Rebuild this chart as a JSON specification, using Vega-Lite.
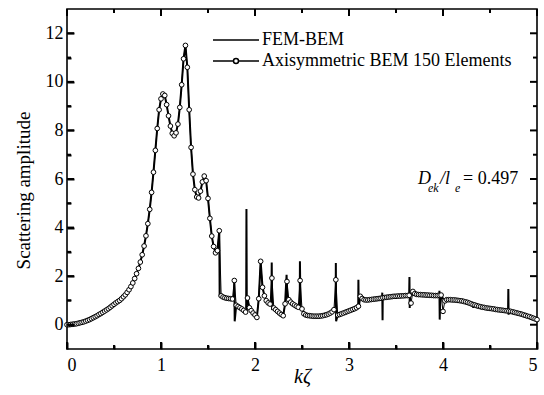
{
"$schema": "https://vega.github.io/schema/vega-lite/v6.json",
"width": 470, "height": 340,
"autosize": {"type": "none"},
"padding": {"left": 67, "top": 9, "right": 7, "bottom": 46},
"background": "white",
"config": {
 "view": {"stroke": "black", "strokeWidth": 1.6},
 "font": "Liberation Serif",
 "axis": {"grid": false, "domain": false, "labelFont": "Liberation Serif", "labelFontSize": 18, "labelColor": "black", "titleFont": "Liberation Serif", "titleColor": "black", "titleFontWeight": "normal"}
},
"data": {"values": [
{"x":0.00,"bem":0.00,"fem":0.00},{"x":0.02,"bem":0.00,"fem":0.00},{"x":0.04,"bem":0.01,"fem":0.01},{"x":0.06,"bem":0.02,"fem":0.02},{"x":0.08,"bem":0.03,"fem":0.03},
{"x":0.10,"bem":0.04,"fem":0.04},{"x":0.12,"bem":0.06,"fem":0.06},{"x":0.14,"bem":0.08,"fem":0.08},{"x":0.16,"bem":0.10,"fem":0.10},{"x":0.18,"bem":0.12,"fem":0.12},
{"x":0.20,"bem":0.15,"fem":0.15},{"x":0.22,"bem":0.18,"fem":0.18},{"x":0.24,"bem":0.21,"fem":0.21},{"x":0.26,"bem":0.25,"fem":0.25},{"x":0.28,"bem":0.29,"fem":0.29},
{"x":0.30,"bem":0.33,"fem":0.33},{"x":0.32,"bem":0.37,"fem":0.37},{"x":0.34,"bem":0.42,"fem":0.42},{"x":0.36,"bem":0.46,"fem":0.46},{"x":0.38,"bem":0.51,"fem":0.51},
{"x":0.40,"bem":0.56,"fem":0.56},{"x":0.42,"bem":0.61,"fem":0.61},{"x":0.44,"bem":0.66,"fem":0.66},{"x":0.46,"bem":0.72,"fem":0.72},{"x":0.48,"bem":0.78,"fem":0.78},
{"x":0.50,"bem":0.84,"fem":0.84},{"x":0.52,"bem":0.90,"fem":0.90},{"x":0.54,"bem":0.95,"fem":0.95},{"x":0.56,"bem":1.00,"fem":1.00},{"x":0.58,"bem":1.07,"fem":1.07},
{"x":0.60,"bem":1.15,"fem":1.15},{"x":0.62,"bem":1.23,"fem":1.23},{"x":0.64,"bem":1.33,"fem":1.33},{"x":0.66,"bem":1.44,"fem":1.44},{"x":0.68,"bem":1.57,"fem":1.57},
{"x":0.70,"bem":1.72,"fem":1.72},{"x":0.72,"bem":1.90,"fem":1.90},{"x":0.74,"bem":2.10,"fem":2.10},{"x":0.76,"bem":2.32,"fem":2.32},{"x":0.78,"bem":2.58,"fem":2.58},
{"x":0.80,"bem":2.88,"fem":2.88},{"x":0.82,"bem":3.24,"fem":3.24},{"x":0.84,"bem":3.66,"fem":3.66},{"x":0.86,"bem":4.16,"fem":4.16},{"x":0.88,"bem":4.75,"fem":4.75},
{"x":0.90,"bem":5.45,"fem":5.45},{"x":0.92,"bem":6.28,"fem":6.28},{"x":0.94,"bem":7.18,"fem":7.18},{"x":0.96,"bem":8.08,"fem":8.08},{"x":0.98,"bem":8.85,"fem":8.85},
{"x":1.00,"bem":9.30,"fem":9.30},{"x":1.02,"bem":9.50,"fem":9.50},{"x":1.04,"bem":9.44,"fem":9.44},{"x":1.06,"bem":9.06,"fem":9.06},{"x":1.08,"bem":8.60,"fem":8.60},
{"x":1.10,"bem":8.18,"fem":8.18},{"x":1.12,"bem":7.88,"fem":7.88},{"x":1.14,"bem":7.78,"fem":7.78},{"x":1.16,"bem":7.90,"fem":7.90},{"x":1.18,"bem":8.26,"fem":8.26},
{"x":1.20,"bem":8.95,"fem":8.95},{"x":1.22,"bem":9.88,"fem":9.88},{"x":1.24,"bem":10.95,"fem":10.95},{"x":1.26,"bem":11.50,"fem":11.50},{"x":1.28,"bem":10.60,"fem":10.60},
{"x":1.30,"bem":8.85,"fem":8.85},{"x":1.32,"bem":7.30,"fem":7.30},{"x":1.34,"bem":6.20,"fem":6.20},{"x":1.36,"bem":5.56,"fem":5.56},{"x":1.38,"bem":5.26,"fem":5.26},
{"x":1.40,"bem":5.22,"fem":5.22},{"x":1.42,"bem":5.50,"fem":5.50},{"x":1.44,"bem":5.88,"fem":5.88},{"x":1.46,"bem":6.12,"fem":6.12},{"x":1.48,"bem":5.93,"fem":5.93},
{"x":1.50,"bem":5.20,"fem":5.20},{"x":1.52,"bem":4.38,"fem":4.38},{"x":1.54,"bem":3.65,"fem":3.65},{"x":1.56,"bem":3.22,"fem":3.22},{"x":1.58,"bem":2.96,"fem":2.96},
{"x":1.60,"bem":3.05,"fem":3.05},{"x":1.62,"bem":3.87,"fem":3.87},{"x":1.624,"fem":1.20},{"x":1.64,"bem":1.19,"fem":1.19},{"x":1.66,"bem":1.14,"fem":1.14},{"x":1.68,"bem":1.11,"fem":1.11},
{"x":1.70,"bem":1.09,"fem":1.09},{"x":1.72,"bem":1.08,"fem":1.08},{"x":1.74,"bem":1.07,"fem":1.07},{"x":1.76,"bem":1.06,"fem":1.06},{"x":1.776,"fem":1.06},{"x":1.78,"bem":1.82,"fem":1.82},{"x":1.784,"fem":0.14},
{"x":1.80,"bem":0.80,"fem":0.80},{"x":1.82,"bem":0.75,"fem":0.75},{"x":1.84,"bem":0.70,"fem":0.70},{"x":1.86,"bem":0.65,"fem":0.65},{"x":1.88,"bem":0.59,"fem":0.59},
{"x":1.90,"bem":0.52,"fem":0.52},{"x":1.906,"fem":0.52},{"x":1.909,"fem":4.76},{"x":1.913,"fem":0.55},{"x":1.92,"bem":1.10,"fem":1.10},{"x":1.94,"bem":0.70,"fem":0.70},{"x":1.96,"bem":0.58,"fem":0.58},{"x":1.98,"bem":0.48,"fem":0.48},
{"x":2.00,"bem":0.40,"fem":0.40},{"x":2.02,"bem":0.30,"fem":0.30},{"x":2.04,"bem":1.07,"fem":1.07},{"x":2.06,"bem":2.61,"fem":2.61},{"x":2.08,"bem":1.54,"fem":1.54},
{"x":2.10,"bem":1.19,"fem":1.19},{"x":2.12,"bem":0.99,"fem":0.99},{"x":2.14,"bem":0.90,"fem":0.90},{"x":2.16,"bem":0.85,"fem":0.85},{"x":2.174,"fem":0.84},{"x":2.178,"fem":2.56},{"x":2.18,"bem":1.92},{"x":2.182,"fem":0.66},
{"x":2.20,"bem":0.69,"fem":0.69},{"x":2.22,"bem":0.62,"fem":0.62},{"x":2.24,"bem":0.55,"fem":0.55},{"x":2.26,"bem":0.48,"fem":0.48},{"x":2.28,"bem":0.42,"fem":0.42},
{"x":2.30,"bem":0.37,"fem":0.37},{"x":2.32,"bem":0.86,"fem":0.86},{"x":2.336,"fem":2.06},{"x":2.34,"bem":1.78},{"x":2.344,"fem":1.05},{"x":2.36,"bem":1.03,"fem":1.03},{"x":2.38,"bem":0.93,"fem":0.93},
{"x":2.40,"bem":0.86,"fem":0.86},{"x":2.42,"bem":0.81,"fem":0.81},{"x":2.44,"bem":0.76,"fem":0.76},{"x":2.46,"bem":0.72,"fem":0.72},{"x":2.476,"fem":0.72},{"x":2.478,"fem":2.61},{"x":2.48,"bem":1.82},{"x":2.484,"fem":0.66},
{"x":2.50,"bem":0.65,"fem":0.65},{"x":2.52,"bem":0.45,"fem":0.45},{"x":2.54,"bem":0.40,"fem":0.40},{"x":2.56,"bem":0.38,"fem":0.38},{"x":2.58,"bem":0.37,"fem":0.37},
{"x":2.60,"bem":0.36,"fem":0.36},{"x":2.62,"bem":0.35,"fem":0.35},{"x":2.64,"bem":0.35,"fem":0.35},{"x":2.66,"bem":0.35,"fem":0.35},{"x":2.68,"bem":0.35,"fem":0.35},
{"x":2.70,"bem":0.36,"fem":0.36},{"x":2.72,"bem":0.37,"fem":0.37},{"x":2.74,"bem":0.39,"fem":0.39},{"x":2.76,"bem":0.41,"fem":0.41},{"x":2.78,"bem":0.44,"fem":0.44},
{"x":2.80,"bem":0.48,"fem":0.48},{"x":2.82,"bem":0.53,"fem":0.53},{"x":2.84,"bem":0.62,"fem":0.62},{"x":2.858,"fem":0.64},{"x":2.86,"bem":1.85,"fem":2.54},{"x":2.863,"fem":0.14},{"x":2.88,"bem":0.40,"fem":0.40},
{"x":2.90,"bem":0.42,"fem":0.42},{"x":2.92,"bem":0.45,"fem":0.45},{"x":2.94,"bem":0.48,"fem":0.48},{"x":2.96,"bem":0.51,"fem":0.51},{"x":2.98,"bem":0.54,"fem":0.54},
{"x":3.00,"bem":0.57,"fem":0.57},{"x":3.02,"bem":0.60,"fem":0.60},{"x":3.04,"bem":0.63,"fem":0.63},{"x":3.06,"bem":0.66,"fem":0.66},{"x":3.08,"bem":0.70,"fem":0.70},
{"x":3.098,"fem":0.76},{"x":3.10,"bem":0.76,"fem":1.85},{"x":3.103,"fem":0.70},{"x":3.12,"bem":1.17,"fem":1.17},{"x":3.14,"bem":1.08,"fem":1.08},{"x":3.16,"bem":1.03,"fem":1.03},{"x":3.18,"bem":1.02,"fem":1.02},
{"x":3.20,"bem":1.02,"fem":1.02},{"x":3.22,"bem":1.03,"fem":1.03},{"x":3.24,"bem":1.04,"fem":1.04},{"x":3.26,"bem":1.05,"fem":1.05},{"x":3.28,"bem":1.06,"fem":1.06},
{"x":3.30,"bem":1.07,"fem":1.07},{"x":3.32,"bem":1.08,"fem":1.08},{"x":3.34,"bem":1.09,"fem":1.09},{"x":3.352,"fem":1.10},{"x":3.354,"fem":1.32},{"x":3.357,"fem":0.18},{"x":3.359,"fem":1.10},{"x":3.36,"bem":1.11,"fem":1.11},{"x":3.38,"bem":1.12,"fem":1.12},
{"x":3.40,"bem":1.13,"fem":1.13},{"x":3.42,"bem":1.14,"fem":1.14},{"x":3.44,"bem":1.15,"fem":1.15},{"x":3.46,"bem":1.16,"fem":1.16},{"x":3.48,"bem":1.17,"fem":1.17},
{"x":3.50,"bem":1.17,"fem":1.17},{"x":3.52,"bem":1.18,"fem":1.18},{"x":3.54,"bem":1.18,"fem":1.18},{"x":3.56,"bem":1.19,"fem":1.19},{"x":3.58,"bem":1.19,"fem":1.19},
{"x":3.60,"bem":1.20,"fem":1.20},{"x":3.62,"bem":1.20,"fem":1.20},{"x":3.64,"bem":1.21,"fem":1.21},{"x":3.643,"fem":1.96},{"x":3.646,"fem":0.69},{"x":3.65,"fem":1.22},{"x":3.66,"bem":0.89,"fem":1.23},{"x":3.68,"bem":1.37,"fem":1.25},
{"x":3.70,"bem":1.28,"fem":1.26},{"x":3.72,"bem":1.25,"fem":1.25},{"x":3.74,"bem":1.24,"fem":1.24},{"x":3.76,"bem":1.24,"fem":1.24},{"x":3.78,"bem":1.23,"fem":1.23},
{"x":3.80,"bem":1.23,"fem":1.23},{"x":3.82,"bem":1.22,"fem":1.22},{"x":3.84,"bem":1.22,"fem":1.22},{"x":3.86,"bem":1.21,"fem":1.21},{"x":3.88,"bem":1.21,"fem":1.21},
{"x":3.90,"bem":1.20,"fem":1.20},{"x":3.92,"bem":1.20,"fem":1.20},{"x":3.94,"bem":1.20,"fem":1.20},{"x":3.96,"bem":1.21,"fem":1.21},{"x":3.962,"fem":1.40},{"x":3.965,"fem":0.21},{"x":3.972,"fem":1.18},{"x":3.98,"bem":1.22,"fem":1.21},
{"x":4.00,"bem":0.55,"fem":1.08},{"x":4.02,"bem":0.98,"fem":1.03},{"x":4.04,"bem":1.03,"fem":1.03},{"x":4.06,"bem":1.03,"fem":1.03},{"x":4.08,"bem":1.03,"fem":1.03},
{"x":4.10,"bem":1.02,"fem":1.02},{"x":4.12,"bem":1.02,"fem":1.02},{"x":4.14,"bem":1.01,"fem":1.01},{"x":4.16,"bem":1.00,"fem":1.00},{"x":4.18,"bem":0.99,"fem":0.99},
{"x":4.20,"bem":0.98,"fem":0.98},{"x":4.22,"bem":0.96,"fem":0.96},{"x":4.24,"bem":0.94,"fem":0.94},{"x":4.26,"bem":0.92,"fem":0.92},{"x":4.28,"bem":0.89,"fem":0.89},
{"x":4.30,"bem":0.86,"fem":0.86},{"x":4.32,"bem":0.83,"fem":0.83},{"x":4.322,"fem":0.69},{"x":4.325,"fem":0.83},{"x":4.34,"bem":0.81,"fem":0.81},{"x":4.36,"bem":0.78,"fem":0.78},{"x":4.38,"bem":0.76,"fem":0.76},
{"x":4.40,"bem":0.74,"fem":0.74},{"x":4.42,"bem":0.72,"fem":0.72},{"x":4.44,"bem":0.71,"fem":0.71},{"x":4.46,"bem":0.69,"fem":0.69},{"x":4.48,"bem":0.68,"fem":0.68},
{"x":4.50,"bem":0.67,"fem":0.67},{"x":4.52,"bem":0.66,"fem":0.66},{"x":4.54,"bem":0.65,"fem":0.65},{"x":4.56,"bem":0.63,"fem":0.63},{"x":4.58,"bem":0.62,"fem":0.62},
{"x":4.60,"bem":0.61,"fem":0.61},{"x":4.62,"bem":0.60,"fem":0.60},{"x":4.64,"bem":0.59,"fem":0.59},{"x":4.66,"bem":0.58,"fem":0.58},{"x":4.68,"bem":0.57,"fem":0.57},
{"x":4.692,"fem":0.57},{"x":4.695,"fem":1.47},{"x":4.698,"fem":0.41},
{"x":4.70,"bem":0.56,"fem":0.56},{"x":4.72,"bem":0.55,"fem":0.55},{"x":4.74,"bem":0.53,"fem":0.53},{"x":4.76,"bem":0.51,"fem":0.51},{"x":4.78,"bem":0.49,"fem":0.49},
{"x":4.80,"bem":0.47,"fem":0.47},{"x":4.82,"bem":0.45,"fem":0.45},{"x":4.84,"bem":0.43,"fem":0.43},{"x":4.86,"bem":0.40,"fem":0.40},{"x":4.88,"bem":0.38,"fem":0.38},
{"x":4.90,"bem":0.35,"fem":0.35},{"x":4.92,"bem":0.33,"fem":0.33},{"x":4.94,"bem":0.30,"fem":0.30},{"x":4.96,"bem":0.27,"fem":0.27},{"x":4.98,"bem":0.24,"fem":0.24},
{"x":5.00,"bem":0.21,"fem":0.21}
]},
"layer": [
 {"transform": [{"filter": "isValid(datum.fem)"}],
  "mark": {"type": "line", "color": "black", "strokeWidth": 2},
  "encoding": {
   "x": {"field": "x", "type": "quantitative", "scale": {"domain": [0, 5], "nice": false, "zero": false},
         "axis": {"orient": "bottom", "zindex": 1, "values": [0,0.5,1,1.5,2,2.5,3,3.5,4,4.5,5], "ticks": true, "tickColor": "#000000", "tickWidth": 2,
                  "tickSize": {"condition": {"test": "datum.value % 1 === 0", "value": -7}, "value": -4},
                  "labelExpr": "datum.value % 1 === 0 ? format(datum.value, 'd') : ''", "labelPadding": 14,
                  "title": "kζ", "titleFont": "Liberation Serif", "titleFontStyle": "italic", "titleFontSize": 20, "titleBaseline": "alphabetic", "titleY": 33}},
   "y": {"field": "fem", "type": "quantitative", "scale": {"domain": [-1, 13], "nice": false, "zero": false},
         "axis": {"orient": "left", "zindex": 1, "values": [0,1,2,3,4,5,6,7,8,9,10,11,12], "ticks": true, "tickColor": "#000000", "tickWidth": 2,
                  "tickSize": {"condition": {"test": "datum.value % 2 === 0", "value": -7}, "value": -4},
                  "labelExpr": "datum.value % 2 === 0 ? format(datum.value, 'd') : ''", "labelPadding": 11,
                  "title": "Scattering amplitude", "titleFont": "Liberation Serif", "titleFontSize": 19, "titleX": -44, "titleY": 181, "titleAngle": -90, "titleBaseline": "middle", "titleAlign": "center"}}
  }},
 {"transform": [{"filter": "isValid(datum.bem)"}],
  "mark": {"type": "line", "color": "black", "strokeWidth": 1},
  "encoding": {
   "x": {"field": "x", "type": "quantitative", "scale": {"domain": [0, 5], "nice": false, "zero": false}, "axis": null},
   "y": {"field": "bem", "type": "quantitative", "scale": {"domain": [-1, 13], "nice": false, "zero": false}, "axis": null}
  }},
 {"transform": [{"filter": "isValid(datum.bem)"}],
  "mark": {"type": "point", "shape": "circle", "filled": true, "fill": "white", "stroke": "black", "strokeWidth": 1, "size": 22, "opacity": 1},
  "encoding": {
   "x": {"field": "x", "type": "quantitative", "scale": {"domain": [0, 5], "nice": false, "zero": false}, "axis": null},
   "y": {"field": "bem", "type": "quantitative", "scale": {"domain": [-1, 13], "nice": false, "zero": false}, "axis": null}
  }},
 {"data": {"values": [{"t":0},{"t":1},{"t":2},{"t":3},{"t":4},{"t":5}]},
  "mark": {"type": "rule", "color": "black", "strokeWidth": 2},
  "encoding": {"x": {"field": "t", "type": "quantitative", "axis": null}, "y": {"datum": -1, "type": "quantitative", "axis": null}, "y2": {"datum": -0.712}}},
 {"data": {"values": [{"t":0},{"t":1},{"t":2},{"t":3},{"t":4},{"t":5}]},
  "mark": {"type": "rule", "color": "black", "strokeWidth": 2},
  "encoding": {"x": {"field": "t", "type": "quantitative", "axis": null}, "y": {"datum": 13, "type": "quantitative", "axis": null}, "y2": {"datum": 12.712}}},
 {"data": {"values": [{"t":0.5},{"t":1.5},{"t":2.5},{"t":3.5},{"t":4.5}]},
  "mark": {"type": "rule", "color": "black", "strokeWidth": 2},
  "encoding": {"x": {"field": "t", "type": "quantitative", "axis": null}, "y": {"datum": -1, "type": "quantitative", "axis": null}, "y2": {"datum": -0.835}}},
 {"data": {"values": [{"t":0.5},{"t":1.5},{"t":2.5},{"t":3.5},{"t":4.5}]},
  "mark": {"type": "rule", "color": "black", "strokeWidth": 2},
  "encoding": {"x": {"field": "t", "type": "quantitative", "axis": null}, "y": {"datum": 13, "type": "quantitative", "axis": null}, "y2": {"datum": 12.835}}},
 {"data": {"values": [{"t":0},{"t":2},{"t":4},{"t":6},{"t":8},{"t":10},{"t":12}]},
  "mark": {"type": "rule", "color": "black", "strokeWidth": 2},
  "encoding": {"y": {"field": "t", "type": "quantitative", "axis": null}, "x": {"datum": 0, "type": "quantitative", "axis": null}, "x2": {"datum": 0.0745}}},
 {"data": {"values": [{"t":0},{"t":2},{"t":4},{"t":6},{"t":8},{"t":10},{"t":12}]},
  "mark": {"type": "rule", "color": "black", "strokeWidth": 2},
  "encoding": {"y": {"field": "t", "type": "quantitative", "axis": null}, "x": {"datum": 5, "type": "quantitative", "axis": null}, "x2": {"datum": 4.9255}}},
 {"data": {"values": [{"t":1},{"t":3},{"t":5},{"t":7},{"t":9},{"t":11}]},
  "mark": {"type": "rule", "color": "black", "strokeWidth": 2},
  "encoding": {"y": {"field": "t", "type": "quantitative", "axis": null}, "x": {"datum": 0, "type": "quantitative", "axis": null}, "x2": {"datum": 0.0426}}},
 {"data": {"values": [{"t":1},{"t":3},{"t":5},{"t":7},{"t":9},{"t":11}]},
  "mark": {"type": "rule", "color": "black", "strokeWidth": 2},
  "encoding": {"y": {"field": "t", "type": "quantitative", "axis": null}, "x": {"datum": 5, "type": "quantitative", "axis": null}, "x2": {"datum": 4.9574}}},
 {"data": {"values": [{}]},
  "mark": {"type": "text", "text": "D", "font": "Liberation Serif", "fontStyle": "italic", "fontSize": 18, "align": "left", "baseline": "alphabetic", "color": "black"},
  "encoding": {"x": {"datum": 3.734, "type": "quantitative", "axis": null}, "y": {"datum": 5.8, "type": "quantitative", "axis": null}}},
 {"data": {"values": [{}]},
  "mark": {"type": "text", "text": "ek", "font": "Liberation Serif", "fontStyle": "italic", "fontSize": 12, "align": "left", "baseline": "alphabetic", "color": "black", "dx": 10, "dy": 8},
  "encoding": {"x": {"datum": 3.734, "type": "quantitative", "axis": null}, "y": {"datum": 5.8, "type": "quantitative", "axis": null}}},
 {"data": {"values": [{}]},
  "mark": {"type": "text", "text": "/l", "font": "Liberation Serif", "fontStyle": "italic", "fontSize": 18, "align": "left", "baseline": "alphabetic", "color": "black", "dx": 22},
  "encoding": {"x": {"datum": 3.734, "type": "quantitative", "axis": null}, "y": {"datum": 5.8, "type": "quantitative", "axis": null}}},
 {"data": {"values": [{}]},
  "mark": {"type": "text", "text": "e", "font": "Liberation Serif", "fontStyle": "italic", "fontSize": 12, "align": "left", "baseline": "alphabetic", "color": "black", "dx": 37, "dy": 8},
  "encoding": {"x": {"datum": 3.734, "type": "quantitative", "axis": null}, "y": {"datum": 5.8, "type": "quantitative", "axis": null}}},
 {"data": {"values": [{}]},
  "mark": {"type": "text", "text": "= 0.497", "font": "Liberation Serif", "fontSize": 18, "align": "left", "baseline": "alphabetic", "color": "black", "dx": 45},
  "encoding": {"x": {"datum": 3.734, "type": "quantitative", "axis": null}, "y": {"datum": 5.8, "type": "quantitative", "axis": null}}},
 {"data": {"values": [{"s": "FEM-BEM"}, {"s": "Axisymmetric BEM 150 Elements"}]},
  "mark": {"type": "point", "filled": false, "color": "black", "strokeWidth": 1.5, "opacity": 0},
  "encoding": {
   "shape": {"field": "s", "type": "nominal",
     "scale": {"domain": ["FEM-BEM", "Axisymmetric BEM 150 Elements"],
               "range": ["M-4.6,0L4.6,0", "M-4.6,0L-0.5,0M0.5,0L4.6,0M0.5,0A0.5,0.5,0,1,1,-0.5,0A0.5,0.5,0,1,1,0.5,0"]},
     "legend": {"title": null, "orient": "none", "legendX": 160, "legendY": 22, "padding": 0, "symbolSize": 100,
       "labelFont": "Liberation Serif", "labelFontSize": 18, "labelColor": "black", "labelOffset": 17, "labelLimit": 400, "rowPadding": 3,
       "symbolOpacity": 1, "symbolStrokeColor": "black", "symbolFillColor": "transparent", "symbolStrokeWidth": 1.5}}
  }}
],
"resolve": {"axis": {"x": "independent", "y": "independent"}}
}
